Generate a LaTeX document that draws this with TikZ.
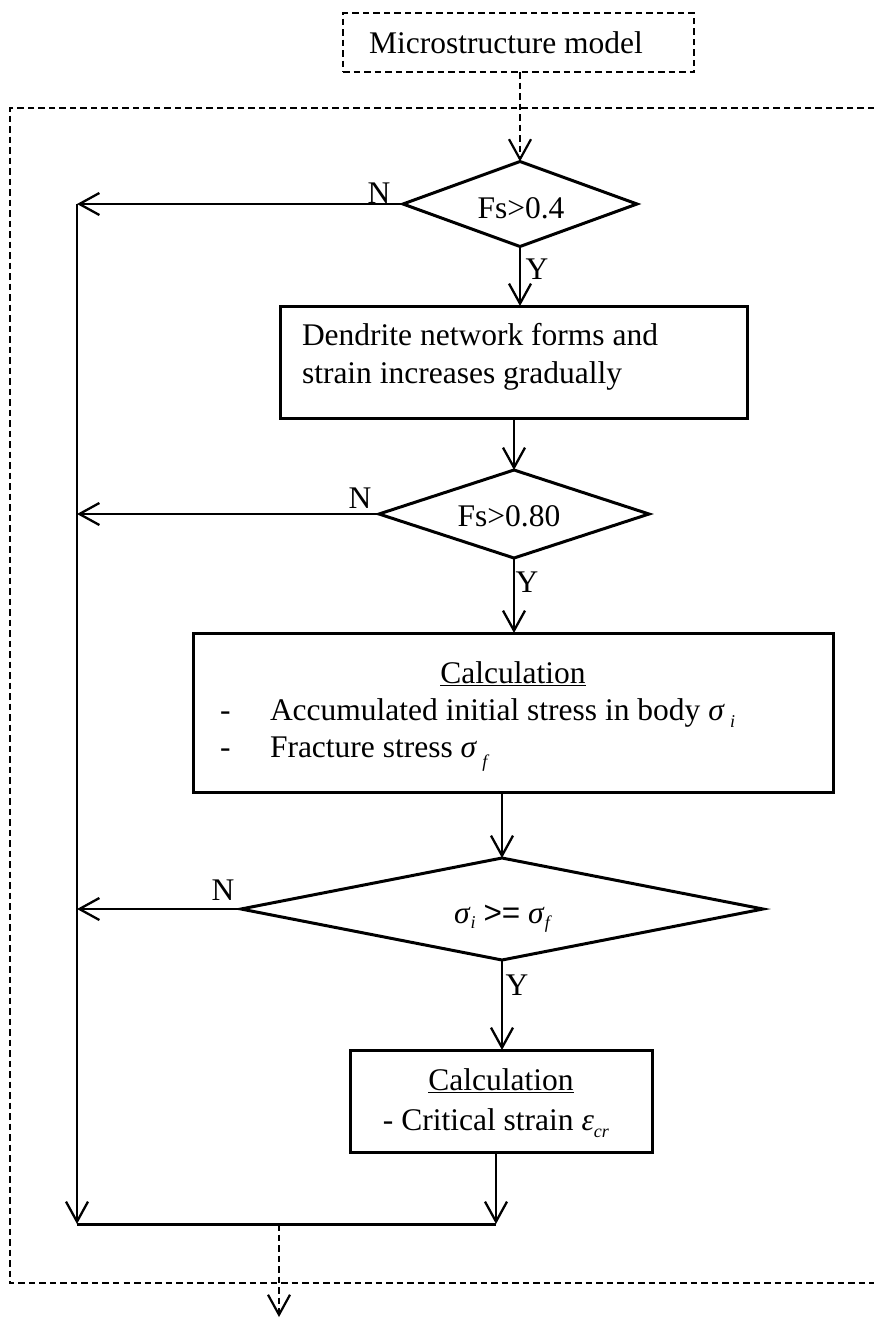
\documentclass[tikz,border=0pt]{standalone}
\usepackage{fontspec}
\setmainfont{Liberation Serif}
\newfontfamily\relfont{Liberation Sans}
\usetikzlibrary{arrows.meta,shapes.geometric}
\newcommand{\lowsub}[2]{\raisebox{#1}{\fontsize{18}{18}\selectfont\textit{#2}}}
\begin{document}
\begin{tikzpicture}[x=1pt,y=-1pt,
  every node/.style={font=\fontsize{31.5}{37}\selectfont, inner sep=0pt, outer sep=0pt},
  frame/.style={line width=2.2pt, dash pattern=on 6.5pt off 4pt},
  boxshape/.style={draw, line width=3pt, rectangle},
  decision/.style={draw, line width=3pt, diamond},
  flow/.style={line width=2.3pt, -{Straight Barb[length=20pt, width=22pt, line width=2.3pt]}},
  dflow/.style={line width=2.2pt, dash pattern=on 6.5pt off 4pt, -{Straight Barb[length=20pt, width=22pt, line width=2.2pt, sep=0pt]}},
  tag/.style={anchor=center}]
\useasboundingbox (0,0) rectangle (874,1320);

% outer dashed frame (open to the right)
\coordinate (fTR) at (874,108);
\coordinate (fTL) at (10,108);
\coordinate (fBL) at (10,1283);
\coordinate (fBR) at (874,1283);
\draw[frame] (fTR) -- (fTL) -- (fBL) -- (fBR);

% input model
\node[draw, frame, minimum width=351pt, minimum height=59pt] (micro) at (518.5,42.5) {};
\node[tag] (microt) at (506,43) {Microstructure model};

% decisions
\node[decision, minimum width=234pt, minimum height=85pt] (d1) at (520,204) {};
\node[tag] (d1t) at (521,208) {Fs>0.4};
\node[decision, minimum width=270pt, minimum height=88pt] (d2) at (514,514) {};
\node[tag] (d2t) at (509,516) {Fs>0.80};
\node[decision, minimum width=522pt, minimum height=102pt] (d3) at (502,909) {};
\node[tag] (d3t) at (503,919) {\textit{σ}\lowsub{-5pt}{i} {\relfont >=} \textit{σ}\lowsub{-5pt}{f}};

% process boxes
\node[boxshape, minimum width=467pt, minimum height=112pt] (b1) at (513.5,362) {};
\node[anchor=base west] (b1a) at (302,345) {Dendrite network forms and};
\node[anchor=base west] (b1b) at (302,383) {strain increases gradually};

\node[boxshape, minimum width=640pt, minimum height=159pt] (b2) at (513,712.5) {};
\node[anchor=base] (b2t) at (513,683) {\underline{Calculation}};
\node[anchor=base west] (b2d1) at (220,720) {-};
\node[anchor=base west] (b2a) at (270,720) {Accumulated initial stress in body \textit{σ}\,\lowsub{-7pt}{i}};
\node[anchor=base west] (b2d2) at (220,757) {-};
\node[anchor=base west] (b2b) at (270,757) {Fracture stress \textit{σ}\,\lowsub{-10pt}{f}};

\node[boxshape, minimum width=302pt, minimum height=102pt] (b3) at (501,1101) {};
\node[anchor=base] (b3t) at (501,1090) {\underline{Calculation}};
\node[anchor=base] (b3a) at (496,1130) {- Critical strain \textit{ε}\lowsub{-7pt}{cr}};

% branch labels
\node[tag] (n1) at (379,193) {N};
\node[tag] (n2) at (360,498) {N};
\node[tag] (n3) at (223,890) {N};
\node[tag] (y1) at (537,269) {Y};
\node[tag] (y2) at (527,582) {Y};
\node[tag] (y3) at (517,985) {Y};

% collecting lines
\coordinate (spine) at (77,204);
\coordinate (joinL) at (77,1224);
\coordinate (joinR) at (496,1224);
\coordinate (outA) at (279,1224);
\coordinate (outB) at (279,1317);

% main flow
\draw[dflow] (micro.south -| d1.north) -- (d1.north);
\draw[flow] (d1.south) -- (d1.south |- b1.north);
\draw[flow] (b1.south -| d2.north) -- (d2.north);
\draw[flow] (d2.south) -- (d2.south |- b2.north);
\draw[flow] (b2.south -| d3.north) -- (d3.north);
\draw[flow] (d3.south) -- (d3.south |- b3.north);
\draw[flow] (b3.south -| joinR) -- (joinR);

% "N" branches to the left spine
\draw[flow] (d1.west) -- (d1.west -| spine);
\draw[flow] (d2.west) -- (d2.west -| spine);
\draw[flow] (d3.west) -- (d3.west -| spine);
\draw[flow] (spine) -- (joinL);
\draw[line width=3pt] (joinL) -- (joinR);

% output
\draw[dflow] (outA) -- (outB);
\end{tikzpicture}
\end{document}
